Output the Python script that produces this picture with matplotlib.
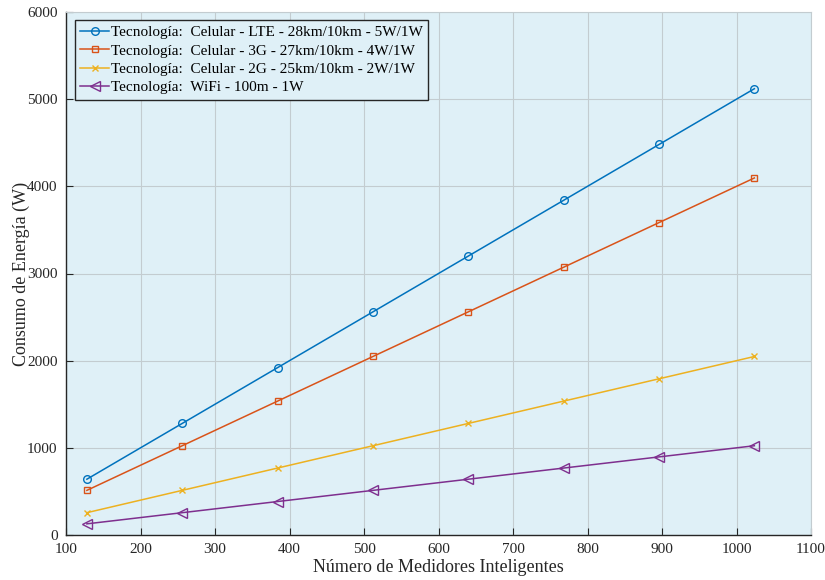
import matplotlib
matplotlib.use("Agg")
import matplotlib.pyplot as plt

plt.rcParams['font.family'] = ['Liberation Serif', 'DejaVu Serif']

# number of smart meters
medidores = [128, 256, 384, 512, 640, 768, 896, 1024]

# energy consumption (W)
lte = [640, 1280, 1920, 2560, 3200, 3840, 4480, 5120]
g3 = [512, 1024, 1536, 2048, 2560, 3072, 3584, 4096]
g2 = [256, 512, 768, 1024, 1280, 1536, 1792, 2048]
wifi = [128, 256, 384, 512, 640, 768, 896, 1024]

labels = [
    'Tecnología:  Celular - LTE - 28km/10km - 5W/1W',
    'Tecnología:  Celular - 3G - 27km/10km - 4W/1W',
    'Tecnología:  Celular - 2G - 25km/10km - 2W/1W',
    'Tecnología:  WiFi - 100m - 1W',
]

fig = plt.figure(figsize=(8.25, 5.8), dpi=100)
ax = fig.add_axes([66/825, 45/580, 745/825, 523/580])
ax.set_facecolor('#dff0f7')

ax.plot(medidores, lte, color='#0072bd', marker='o', ms=5.5, mfc='none', lw=1.1, label=labels[0])
ax.plot(medidores, g3, color='#d95319', marker='s', ms=5, mfc='none', lw=1.1, label=labels[1])
ax.plot(medidores, g2, color='#edb120', marker='x', ms=4.5, lw=1.1, label=labels[2])
ax.plot(medidores, wifi, color='#7e2f8e', marker='<', ms=6.5, mfc='none', lw=1.1, label=labels[3])

ax.set_xlim(100, 1100)
ax.set_ylim(0, 6000)
ax.set_xticks(range(100, 1101, 100))
ax.set_yticks(range(0, 6001, 1000))
ax.grid(True, color='#c3ccd0', lw=0.8)
ax.set_axisbelow(True)
ax.tick_params(direction='in', length=5, labelsize=11, colors='#262626', pad=6)
for s in ['top', 'right']:
    ax.spines[s].set_color('#c3ccd0')
for s in ['left', 'bottom']:
    ax.spines[s].set_color('#262626')
    ax.spines[s].set_linewidth(1.0)

ax.set_xlabel('Número de Medidores Inteligentes', fontsize=13, color='#262626', labelpad=2)
ax.set_ylabel('Consumo de Energía (W)', fontsize=13, color='#262626', labelpad=-2)

leg = ax.legend(loc='upper left', bbox_to_anchor=(0.008, 0.99), fontsize=11,
                frameon=True, fancybox=False, edgecolor='#262626',
                facecolor='#dff0f7', framealpha=1, handlelength=1.9,
                handletextpad=0.1, borderpad=0.35, labelspacing=0.3, borderaxespad=0.2)
leg.get_frame().set_linewidth(1.0)

fig.savefig('out.png', dpi=100)
